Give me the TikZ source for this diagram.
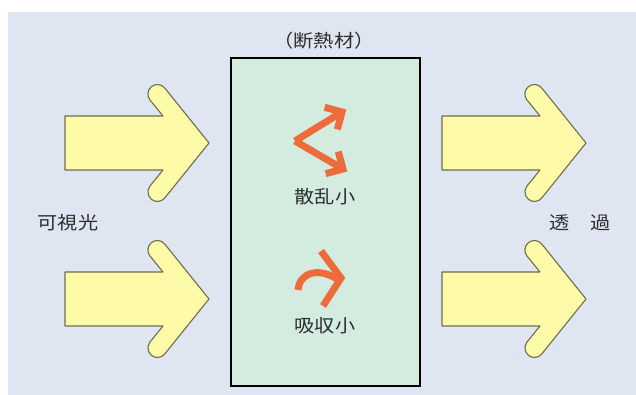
\documentclass[tikz,border=0pt]{standalone}
\usepackage{fontspec}
\newfontfamily\jp[FakeStretch=1.12]{Noto Sans CJK JP}
\definecolor{bgblue}{HTML}{DFE5F1}
\definecolor{boxfill}{HTML}{D3ECDF}
\definecolor{lightyellow}{HTML}{FDFAA8}
\definecolor{arrowedge}{HTML}{6E6E4C}
\definecolor{rayorange}{HTML}{EE6B3B}
\definecolor{textgray}{HTML}{2E2E2E}
\tikzset{
  x=1pt, y=-1pt,
  label text/.style={font=\jp\fontsize{18}{20}\selectfont, text=textgray, inner sep=0pt},
  ray/.style={draw=rayorange, line width=7pt, line cap=butt, line join=miter},
  pics/yarrow/.style={code={
    \draw[fill=lightyellow, draw=arrowedge, line width=1.1pt, line join=round]
      (0,-27) -- (98,-27) -- (85,-43)
      arc[start angle=141, end angle=321, radius=9.5]
      -- (144,0) -- (99.8,54.9)
      arc[start angle=38.6, end angle=219, radius=9.5]
      -- (98,27) -- (0,27) -- cycle;
  }}
}
\begin{document}
\begin{tikzpicture}
\useasboundingbox (0,0) rectangle (636,395);
\fill[white] (0,0) rectangle (636,395);
\fill[bgblue] (8,12) rectangle (636,395);
% insulation box
\draw[fill=boxfill, line width=2.8pt] (231,58) rectangle (420,386);
% big arrows
\pic at (65,143) {yarrow};
\pic at (65,299) {yarrow};
\pic at (442,143) {yarrow};
\pic at (442,299) {yarrow};
% labels
\node[label text] (title) at (324,41) {（断熱材）};
\node[label text] (visible) at (68,223) {可視光};
\node[label text] (trans) at (580,223) {透　過};
\node[label text] (scat) at (325,197) {散乱小};
\node[label text] (absb) at (325,326) {吸収小};
% scattering rays
\coordinate (sv) at (295,141);
\coordinate (su) at (342,112);
\coordinate (sd) at (343,169);
\draw[ray] (sv) -- (su);
\draw[ray] (sv) -- (sd);
\draw[ray] ([shift={(195:18)}]su) -- (su) -- ([shift={(105:18)}]su);
\draw[ray] ([shift={(165:18)}]sd) -- (sd) -- ([shift={(255:18)}]sd);
% absorption ray
\coordinate (av) at (341,278);
\coordinate (aup) at (321,251);
\coordinate (alo) at (323,306);
\coordinate (as) at (298,290);
\draw[ray] (aup) -- (av) -- (alo);
\draw[ray] (as) .. controls (300,271) and (320,268) .. (337,279);
\end{tikzpicture}
\end{document}
